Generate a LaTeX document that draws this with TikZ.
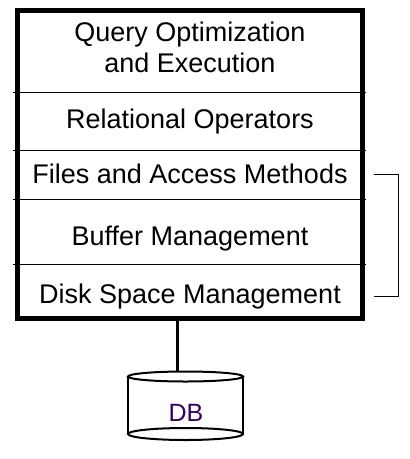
\documentclass[tikz,border=0pt]{standalone}
\usepackage{fontspec}
\setmainfont{Liberation Sans}
\definecolor{dbtext}{RGB}{51,0,102}
\begin{document}
\begin{tikzpicture}[x=1pt,y=-1pt,
  layer/.style={font=\fontsize{27}{31}\selectfont, align=center, inner sep=0pt},
  frameline/.style={line width=5pt},
  divider/.style={line width=1pt},
  cyl/.style={line width=2pt},
  stem/.style={line width=2.8pt},
  bracket/.style={line width=1pt}]
\useasboundingbox (0,0) rectangle (410,459);
% outer frame
\node[draw, frameline, minimum width=345pt, minimum height=308pt, inner sep=0pt] (frame) at (190,164) {};
% dividers
\draw[divider] (13,92) -- (366,92);
\draw[divider] (13,150) -- (366,150);
\draw[divider] (13,199) -- (366,199);
\draw[divider] (13,264) -- (366,264);
% layer texts
\node[layer] (qo) at (190,47.5) {Query Optimization\\and Execution};
\node[layer, anchor=base] (ro) at (190,128) {Relational Operators};
\node[layer, anchor=base] (fa) at (190,183) {Files and Access Methods};
\node[layer, anchor=base] (bm) at (190,245) {Buffer Management};
\node[layer, anchor=base] (ds) at (190,303) {Disk Space Management};
% bracket
\coordinate (bt) at (374,174);
\coordinate (bb) at (374,296);
\draw[bracket] (bt) -- (398,174) -- (398,296) -- (bb);
% stem
\coordinate (stemtop) at (177.3,318);
\coordinate (stembot) at (177.3,371.5);
\draw[stem] (stemtop) -- (stembot);
% cylinder
\draw[cyl] (185.5,376.5) ellipse [x radius=57.5, y radius=5];
\draw[cyl] (185.5,434) ellipse [x radius=57.5, y radius=6];
\draw[cyl] (128,376.5) -- (128,434);
\draw[cyl] (243,376.5) -- (243,434);
\node[anchor=base, font=\fontsize{25}{29}\selectfont, text=dbtext, inner sep=0pt] (db) at (186,421.7) {DB};
\end{tikzpicture}
\end{document}
